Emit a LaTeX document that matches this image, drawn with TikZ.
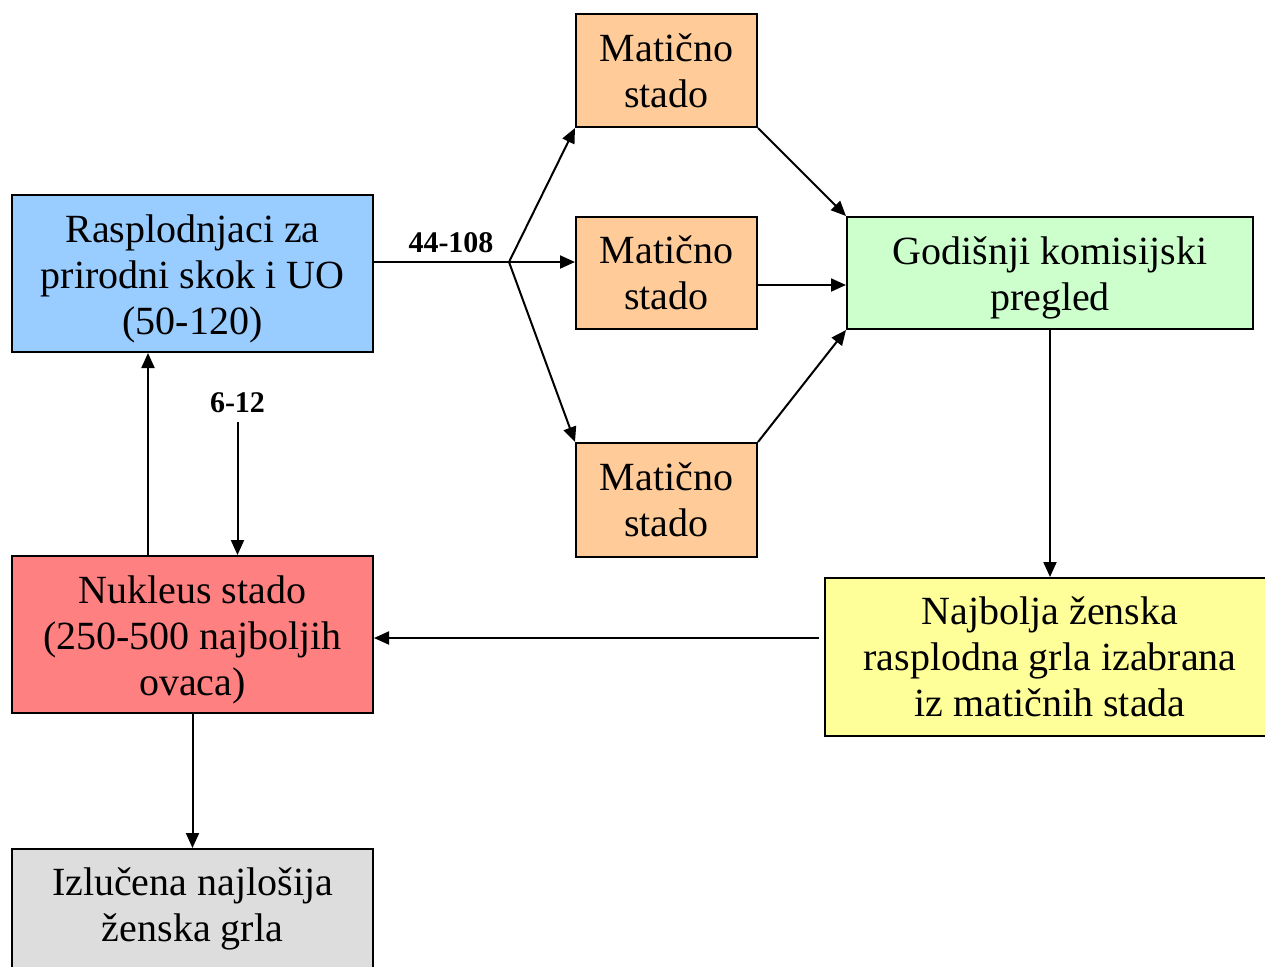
\documentclass[tikz,border=0pt]{standalone}
\usepackage{fontspec}
\setmainfont{Liberation Serif}
\usetikzlibrary{arrows.meta}

\definecolor{ramblue}{HTML}{99CCFF}
\definecolor{herdpeach}{HTML}{FFCC99}
\definecolor{reviewgreen}{HTML}{CCFFCC}
\definecolor{femaleyellow}{HTML}{FFFF99}
\definecolor{nucleusred}{HTML}{FF8080}
\definecolor{cullgray}{HTML}{DDDDDD}

\tikzset{
  box/.style={draw=black, line width=1pt, inner sep=0pt, align=center,
    font=\fontsize{20}{23}\selectfont},
  lowbox/.style={box, label={[align=center, inner sep=0pt, font=\fontsize{20}{23}\selectfont, yshift=-2.5pt]center:#1}},
  numlabel/.style={font=\fontsize{15}{17}\selectfont\bfseries, inner sep=1pt}
}

\begin{document}
\begin{tikzpicture}[x=0.5pt,y=-0.5pt, line width=1pt, >={Triangle[length=7.5pt,width=6.5pt]}]

    \useasboundingbox (0,0) rectangle (1265,966);

    \node[lowbox={Rasplodnjaci za\\prirodni skok i UO\\(50-120)}, fill=ramblue, minimum width=180.5pt, minimum height=78.5pt] (rasp) at (192.5,273.5) {};
    \node[box, fill=herdpeach, minimum width=90.5pt, minimum height=56.5pt] (mat1) at (666.5,70.5) {Matično\\stado};
    \node[box, fill=herdpeach, minimum width=90.5pt, minimum height=56pt] (mat2) at (666.5,273) {Matično\\stado};
    \node[box, fill=herdpeach, minimum width=90.5pt, minimum height=57pt] (mat3) at (666.5,500) {Matično\\stado};
    \node[lowbox={Godišnji komisijski\\pregled}, fill=reviewgreen, minimum width=203pt, minimum height=56pt] (god) at (1050,273) {};
    \node[box, fill=femaleyellow, minimum width=225pt, minimum height=79pt] (najb) at (1050,657) {Najbolja ženska\\rasplodna grla izabrana\\iz matičnih stada};
    \node[lowbox={Nukleus stado\\(250-500 najboljih\\ovaca)}, fill=nucleusred, minimum width=180.5pt, minimum height=78.5pt] (nukl) at (192.5,634.5) {};
    \node[box, fill=cullgray, minimum width=180.5pt, minimum height=60pt] (izl) at (192.5,909) {Izlučena najlošija\\ženska grla};

    \node[numlabel] (lbl44) at (451,243) {44-108};
    \node[numlabel] (lbl6) at (237.5,403) {6-12};
    \coordinate (split) at (509,262);

    \draw (rasp.east |- split) -- (split);
    \draw[->] (split) -- (mat1.south west);
    \draw[->] (split) -- (split -| mat2.west);
    \draw[->] (split) -- (mat3.north west);

    \draw[->] (mat1.south east) -- (god.north west);
    \draw[->] ([yshift=-6pt]mat2.east) -- ([yshift=-6pt]god.west);
    \draw[->] (mat3.north east) -- (god.south west);

    \draw[->] (god.south) -- (najb.north);
    \draw[->] ([shift={(-2.5pt,9.5pt)}]najb.west) -- ([yshift=9.5pt]najb.west -| nukl.east);

    \draw[->] ([xshift=-22.25pt]nukl.north) -- ([xshift=-22.25pt]rasp.south);
    \draw[->] ([yshift=-3pt]lbl6.south) -- (lbl6.south |- nukl.north);
    \draw[->] (nukl.south) -- (izl.north);

\end{tikzpicture}
\end{document}
